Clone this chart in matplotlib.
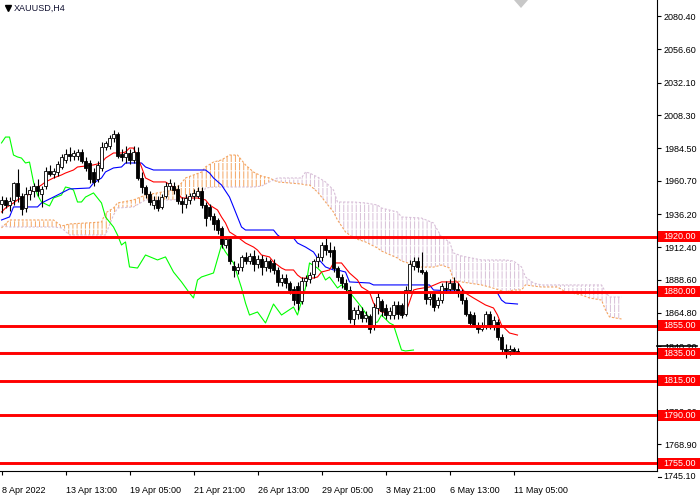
import numpy as np
import matplotlib
matplotlib.use("Agg")
import matplotlib.pyplot as plt
from matplotlib.patches import Rectangle, Polygon
from matplotlib.lines import Line2D

plt.rcParams['font.family'] = ['Liberation Sans', 'DejaVu Sans']
plt.rcParams['hatch.linewidth'] = 0.7

symbol = "XAUUSD,H4"

# H4 candles, bar 0 = 8 Apr 2022 21:00
opens = [1944, 1947, 1943, 1947, 1959, 1950, 1941, 1951, 1953, 1957,
         1951, 1957, 1968, 1966, 1967, 1971, 1976, 1980, 1979, 1979,
         1982, 1975, 1974, 1967, 1962, 1970, 1985, 1986, 1992, 1995,
         1980, 1978, 1981, 1976, 1982, 1963, 1956, 1951, 1943, 1947,
         1942, 1950, 1957, 1957, 1955, 1946, 1944, 1947, 1950, 1950,
         1953, 1943, 1942, 1935, 1932, 1926, 1914, 1918, 1899, 1896,
         1898, 1905, 1902, 1906, 1900, 1904, 1898, 1902, 1901, 1896,
         1887, 1890, 1886, 1882, 1884, 1873, 1888, 1889, 1893, 1902,
         1905, 1914, 1910, 1910, 1897, 1891, 1886, 1881, 1860, 1864,
         1866, 1861, 1862, 1855, 1868, 1873, 1868, 1863, 1863, 1870,
         1870, 1864, 1881, 1899, 1902, 1896, 1894, 1875, 1878, 1870,
         1874, 1883, 1882, 1886, 1882, 1879, 1874, 1864, 1863, 1856,
         1853, 1855, 1864, 1855, 1858, 1847, 1838, 1837, 1838, 1837]
highs = [1950, 1949, 1949, 1960, 1969, 1952, 1956, 1957, 1959, 1962,
         1957, 1971, 1972, 1970, 1975, 1980, 1984, 1985, 1983, 1984,
         1984, 1978, 1976, 1970, 1975, 1989, 1990, 1994, 1998, 1996,
         1984, 1986, 1984, 1986, 1985, 1967, 1958, 1953, 1950, 1950,
         1951, 1960, 1962, 1960, 1958, 1949, 1951, 1952, 1955, 1956,
         1956, 1945, 1944, 1937, 1934, 1928, 1920, 1920, 1902, 1901,
         1907, 1909, 1908, 1910, 1907, 1907, 1905, 1904, 1904, 1898,
         1893, 1893, 1888, 1884, 1887, 1891, 1892, 1894, 1904, 1908,
         1916, 1920, 1916, 1913, 1899, 1893, 1889, 1884, 1869, 1870,
         1869, 1866, 1864, 1872, 1880, 1875, 1871, 1869, 1873, 1873,
         1872, 1884, 1903, 1905, 1905, 1909, 1896, 1880, 1880, 1876,
         1886, 1888, 1889, 1891, 1886, 1882, 1876, 1866, 1865, 1858,
         1858, 1866, 1866, 1862, 1860, 1849, 1842, 1841, 1840, 1839]
lows = [1937, 1941, 1939, 1943, 1945, 1936, 1938, 1947, 1949, 1950,
        1942, 1955, 1964, 1963, 1964, 1969, 1974, 1975, 1976, 1976,
        1974, 1968, 1959, 1957, 1960, 1968, 1983, 1984, 1989, 1977,
        1975, 1974, 1973, 1974, 1961, 1952, 1948, 1943, 1940, 1939,
        1940, 1948, 1954, 1951, 1944, 1937, 1941, 1944, 1947, 1948,
        1941, 1928, 1932, 1925, 1922, 1912, 1912, 1900, 1891, 1893,
        1895, 1900, 1900, 1895, 1897, 1892, 1895, 1894, 1893, 1884,
        1884, 1883, 1878, 1870, 1867, 1871, 1884, 1886, 1890, 1898,
        1902, 1907, 1905, 1894, 1888, 1883, 1879, 1857, 1856, 1860,
        1858, 1858, 1850, 1852, 1864, 1862, 1860, 1860, 1860, 1860,
        1861, 1862, 1879, 1896, 1894, 1893, 1871, 1870, 1866, 1868,
        1872, 1879, 1879, 1880, 1876, 1871, 1862, 1855, 1854, 1850,
        1851, 1853, 1853, 1852, 1845, 1836, 1832, 1834, 1835, 1836]
closes = [1947, 1943, 1946, 1959, 1950, 1940, 1951, 1954, 1957, 1953,
          1955, 1968, 1966, 1968, 1973, 1978, 1980, 1979, 1981, 1982,
          1975, 1970, 1962, 1960, 1972, 1985, 1988, 1992, 1995, 1979,
          1978, 1981, 1976, 1982, 1963, 1956, 1951, 1945, 1947, 1941,
          1949, 1957, 1959, 1954, 1946, 1944, 1948, 1950, 1952, 1953,
          1943, 1934, 1935, 1929, 1925, 1915, 1918, 1902, 1896, 1898,
          1905, 1902, 1906, 1900, 1904, 1898, 1902, 1897, 1896, 1887,
          1890, 1886, 1881, 1874, 1872, 1888, 1890, 1892, 1902, 1905,
          1914, 1910, 1909, 1897, 1891, 1886, 1882, 1860, 1867, 1867,
          1861, 1863, 1853, 1869, 1876, 1866, 1863, 1866, 1870, 1864,
          1863, 1881, 1900, 1902, 1898, 1894, 1875, 1876, 1869, 1874,
          1884, 1882, 1886, 1882, 1879, 1874, 1864, 1857, 1856, 1853,
          1855, 1864, 1855, 1859, 1847, 1838, 1837, 1838, 1837, 1836.4]

# Ichimoku lines (bar index, price)
tenkan_bar = [0, 1, 3, 4, 5, 6, 8, 10, 11, 13, 15, 16, 18, 19, 21, 23, 25, 26, 28, 30,
              31, 32, 33, 34, 35, 36, 38, 41, 43, 45, 49, 51, 52, 54, 55, 56, 57, 59, 61, 63,
              64, 65, 67, 68, 70, 71, 73, 74, 75, 78, 79, 80, 82, 83, 85, 87, 89, 90, 92, 93,
              94, 95, 97, 101, 102, 103, 104, 107, 110, 114, 115, 116, 118, 121, 123, 124, 125, 127, 129]
tenkan_val = [1938.0, 1940.9, 1944.6, 1946.8, 1948.2, 1948.9, 1954.0, 1957.7, 1959.9, 1962.8,
              1965.0, 1966.4, 1968.6, 1970.8, 1971.5, 1972.3, 1973.7, 1977.3, 1981.0, 1981.0,
              1981.7, 1984.6, 1984.6, 1978.0, 1970.8, 1962.8, 1959.9, 1959.9, 1956.2, 1948.2,
              1948.2, 1946.8, 1943.1, 1939.5, 1934.4, 1930.0, 1923.5, 1919.8, 1915.4, 1912.5,
              1910.3, 1906.7, 1905.3, 1901.6, 1897.2, 1895.8, 1895.8, 1892.1, 1889.9, 1889.9,
              1890.7, 1894.3, 1895.8, 1900.9, 1900.9, 1893.6, 1888.5, 1883.4, 1879.8, 1871.7,
              1868.1, 1865.2, 1864.5, 1864.5, 1872.5, 1881.2, 1882.0, 1883.4, 1887.1, 1887.1,
              1882.7, 1879.0, 1875.4, 1870.3, 1868.1, 1863.0, 1855.7, 1849.9, 1848.4]

kijun_bar = [0, 2, 3, 9, 10, 13, 17, 22, 23, 25, 26, 28, 30, 31, 35, 36, 38, 51, 52, 53,
             55, 57, 58, 59, 60, 61, 68, 69, 70, 73, 74, 76, 78, 79, 81, 83, 84, 86, 87, 92,
             93, 107, 108, 124, 125, 126, 129]
kijun_val = [1932.2, 1934.4, 1941.7, 1941.7, 1944.6, 1948.9, 1954.8, 1955.5, 1959.1, 1962.8,
             1967.2, 1970.1, 1970.8, 1973.7, 1973.7, 1970.8, 1968.6, 1968.6, 1966.4, 1962.8,
             1957.7, 1948.9, 1941.7, 1934.4, 1927.1, 1924.9, 1924.9, 1921.3, 1919.1, 1919.1,
             1915.4, 1912.5, 1908.9, 1904.5, 1898.0, 1895.8, 1895.8, 1894.3, 1887.1, 1886.3,
             1884.9, 1884.9, 1881.2, 1879.0, 1873.9, 1871.7, 1871.0]

chikou_bar = [0, 1, 2, 3, 4, 5, 6, 7, 8, 9, 10, 12, 13, 15, 16, 17, 18, 19, 20, 21,
              23, 25, 26, 28, 29, 30, 31, 32, 34, 36, 39, 41, 43, 45, 47, 48, 49, 50, 53, 55,
              56, 58, 60, 61, 62, 64, 66, 68, 70, 73, 74, 76, 77, 79, 80, 81, 82, 84, 85, 87,
              88, 90, 91, 93, 94, 95, 97, 98, 100, 101, 103]
chikou_val = [1988.3, 1992.6, 1992.6, 1979.5, 1978.1, 1977.3, 1973.7, 1974.4, 1959.9, 1950.4,
              1945.3, 1942.4, 1948.2, 1950.4, 1956.2, 1955.5, 1954.0, 1945.3, 1945.3, 1948.9,
              1951.9, 1944.6, 1934.4, 1927.1, 1921.3, 1914.0, 1916.2, 1898.0, 1897.2, 1906.7,
              1903.1, 1905.3, 1894.3, 1887.1, 1879.0, 1875.4, 1888.5, 1890.7, 1893.6, 1914.0,
              1908.9, 1900.9, 1882.7, 1871.7, 1863.0, 1865.2, 1857.2, 1871.0, 1863.0, 1868.8,
              1863.0, 1882.7, 1900.9, 1897.2, 1894.3, 1888.5, 1890.7, 1882.7, 1884.9, 1879.8,
              1876.1, 1868.8, 1864.5, 1857.2, 1857.9, 1863.0, 1857.2, 1855.7, 1837.5, 1836.8,
              1837.5]

cloud_bar = [0, 2, 13, 15, 17, 25, 26, 28, 29, 33, 36, 43, 45, 46, 50, 51, 53, 55, 57, 59,
             60, 61, 63, 65, 67, 69, 75, 76, 77, 79, 81, 83, 84, 86, 88, 91, 94, 95, 99, 100,
             105, 108, 110, 112, 113, 115, 120, 122, 126, 128, 130, 131, 133, 135, 139, 141, 145, 147, 150, 151,
             152, 155]
span_a = [1926.4, 1932.2, 1932.2, 1927.8, 1929.3, 1930.7, 1937.3, 1940.9, 1944.6, 1946.8,
          1950.4, 1954.0, 1959.1, 1962.8, 1967.1, 1970.8, 1974.4, 1975.9, 1979.5, 1979.5,
          1975.9, 1972.3, 1967.1, 1964.2, 1962.8, 1959.9, 1958.4, 1957.7, 1957.7, 1952.6,
          1945.3, 1938.0, 1932.2, 1923.5, 1919.1, 1916.2, 1911.8, 1909.6, 1904.5, 1902.3,
          1897.9, 1897.9, 1899.4, 1897.2, 1888.5, 1887.1, 1884.9, 1883.4, 1879.8, 1881.2,
          1881.2, 1884.9, 1884.1, 1883.4, 1883.4, 1879.8, 1877.6, 1875.4, 1873.9, 1866.7,
          1861.6, 1860.1]
span_b = [1927.8, 1927.1, 1927.1, 1926.4, 1921.3, 1921.3, 1921.3, 1935.8, 1940.9, 1941.7,
          1946.8, 1946.8, 1948.2, 1948.9, 1949.7, 1955.5, 1956.2, 1956.2, 1956.2, 1956.2,
          1956.2, 1956.2, 1956.2, 1956.9, 1959.9, 1962.8, 1962.8, 1967.1, 1966.4, 1963.5,
          1959.9, 1954.0, 1945.3, 1945.3, 1945.3, 1944.6, 1943.1, 1940.9, 1938.0, 1934.4,
          1933.6, 1930.0, 1919.8, 1916.2, 1908.2, 1906.0, 1903.1, 1903.1, 1903.1, 1902.3,
          1898.0, 1890.7, 1886.3, 1884.9, 1884.9, 1884.9, 1884.9, 1884.9, 1884.9, 1879.8,
          1876.1, 1876.1]

levels = [1920, 1880, 1855, 1835, 1815, 1790, 1755]
price_ticks = [2080.40, 2056.60, 2032.10, 2008.30, 1984.50, 1960.70, 1936.20, 1912.40,
               1888.60, 1864.80, 1840.20, 1816.40, 1792.60, 1768.90, 1745.10]
date_bars = [0, 16, 32, 48, 64, 80, 96, 112, 128]
date_labels = ["8 Apr 2022", "13 Apr 13:00", "19 Apr 05:00", "21 Apr 21:00", "26 Apr 13:00",
               "29 Apr 05:00", "3 May 21:00", "6 May 13:00", "11 May 05:00"]

FS = 6.5
W, H = 700, 500
fig = plt.figure(figsize=(7, 5), dpi=100)
ax = fig.add_axes([0, 29 / H, 657 / W, 471 / H])
y_lo, y_hi = 1749.4, 2092.4
ax.set_xlim(-0.375, 163.875)
ax.set_ylim(y_lo, y_hi)

# cloud
a = np.array(span_a)
b = np.array(span_b)
ax.fill_between(cloud_bar, a, b, where=a >= b, interpolate=True, facecolor='none',
                edgecolor='#F4A460', hatch='||||', linewidth=0, zorder=1)
ax.fill_between(cloud_bar, a, b, where=a <= b, interpolate=True, facecolor='none',
                edgecolor='#D8BFD8', hatch='||||', linewidth=0, zorder=1)
ax.fill_between(cloud_bar, a, b, facecolor='none', edgecolor='white', hatch='--',
                linewidth=0, zorder=1.1)
ax.plot(cloud_bar, span_a, color='#F4A460', lw=0.8, ls=(0, (2, 1.5)), zorder=1.2)
ax.plot(cloud_bar, span_b, color='#D8BFD8', lw=0.8, ls=(0, (2, 1.5)), zorder=1.2)

ax.plot(chikou_bar, chikou_val, color='#00FF00', lw=0.8, zorder=2)
ax.plot(kijun_bar, kijun_val, color='#0000FF', lw=0.8, zorder=2)
ax.plot(tenkan_bar, tenkan_val, color='#FF0000', lw=0.8, zorder=2.1)

# bid line
ax.axhline(closes[-1], color='#C0C0C0', lw=0.8, zorder=2.5)

# candles
xs = np.arange(len(opens))
o = np.array(opens, dtype=float)
c = np.array(closes, dtype=float)
ax.vlines(xs, lows, highs, color='black', lw=0.8, zorder=2.9)
faces = ['white' if cc >= oo else 'black' for oo, cc in zip(o, c)]
ax.bar(xs, np.maximum(np.abs(c - o), 0.4), bottom=np.minimum(o, c), width=0.7,
       color=faces, edgecolor='black', linewidth=0.6, zorder=3)

# support / resistance levels
for lv in levels:
    ax.axhline(lv, color='#FF0000', lw=2.1, zorder=4)

# axes styling
for s in ['top', 'left']:
    ax.spines[s].set_visible(False)
for s in ['right', 'bottom']:
    ax.spines[s].set_color('black')
    ax.spines[s].set_linewidth(0.8)

ax.yaxis.tick_right()
in_range = [t for t in price_ticks if y_lo <= t <= y_hi]
below = [t for t in price_ticks if t < y_lo]
ax.set_yticks(in_range)
ax.set_yticklabels([f"{t:.2f}" for t in in_range])
ax.tick_params(axis='y', length=3, width=0.8, pad=2, labelsize=FS, colors='black')
ytr = ax.get_yaxis_transform()
for t in below:
    ax.plot([1.0015, 1.0015 + 3 / 657], [t, t], color='black', lw=0.8, transform=ytr,
            clip_on=False)
    ax.text(1 + 6 / 657, t, f"{t:.2f}", transform=ytr, fontsize=FS, va='center',
            ha='left', clip_on=False)

ax.set_xticks(date_bars)
ax.set_xticklabels(date_labels, ha='left')
ax.tick_params(axis='x', length=3, width=0.8, pad=8, labelsize=FS, colors='black')

# marker on price scale near bid
ax.plot([1.0, 1 + 40 / 657], [1840.5, 1840.5], color='black', lw=1.2, transform=ytr,
        clip_on=False, zorder=5)

# level labels on the price scale
bh = 5.5 * (y_hi - y_lo) / 471
for lv in levels:
    ax.add_patch(Rectangle((1.0015, lv - bh), 43 / 657, 2 * bh, transform=ytr,
                           facecolor='#FF0000', edgecolor='none', clip_on=False, zorder=6))
    ax.text(1 + 6 / 657, lv, f"{lv:.2f}", transform=ytr, fontsize=FS, color='white',
            va='center', ha='left', clip_on=False, zorder=7)

# chart header
fig.add_artist(Line2D([8 / W], [1 - 8 / H], marker='v', markersize=4.5, color='black',
                      transform=fig.transFigure))
fig.text(14 / W, 1 - 8 / H, symbol, fontsize=FS, color='#101030', va='center', ha='left')

# chart shift marker
fig.add_artist(Polygon([[514 / W, 1.0], [528 / W, 1.0], [521 / W, 1 - 8 / H]],
                       closed=True, facecolor='#C8C8C8', edgecolor='none',
                       transform=fig.transFigure))

fig.savefig("out.png", dpi=100)
